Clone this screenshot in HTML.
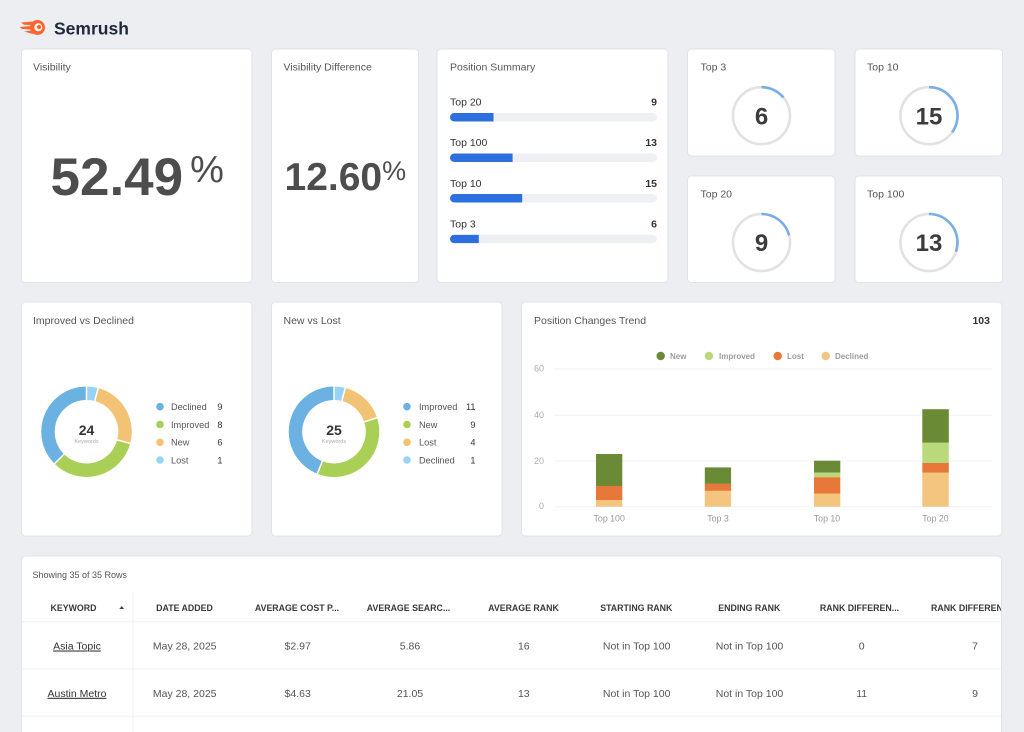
<!DOCTYPE html>
<html><head><meta charset="utf-8"><style>
html,body{margin:0;padding:0;background:#eceef1;width:1024px;height:732px;overflow:hidden}
svg{display:block}
text{font-family:"Liberation Sans",Arial,sans-serif}
</style></head><body>
<svg width="1024" height="732" viewBox="0 0 1024 732" xmlns="http://www.w3.org/2000/svg">
<rect x="0" y="0" width="1024" height="732" fill="#eceef1"/>
<!-- logo -->
<g fill="#ff642d">
<circle cx="37.5" cy="27.5" r="7.5"/>
<path d="M21 22.5 L33 21.5 L33 25 L24 24.8 Z"/>
<path d="M19.5 27 L31 26 L31 29.5 L22 29 Z"/>
<path d="M24 31.5 L32 30.5 L33 34 Z"/>
</g>
<circle cx="38.3" cy="27.3" r="4" fill="#fff"/>
<circle cx="39" cy="27" r="2.2" fill="#ff642d"/>
<text x="54" y="34.5" font-size="17.5" font-weight="bold" fill="#1e2a3b">Semrush</text>

<!-- cards -->
<g fill="#fff" stroke="#e1e3e7" stroke-width="1">
<rect x="21.5" y="49" width="230.5" height="233.5" rx="4"/>
<rect x="271.5" y="49" width="147" height="233.5" rx="4"/>
<rect x="437" y="49" width="231" height="233.5" rx="4"/>
<rect x="687.5" y="49" width="147.5" height="107" rx="4"/>
<rect x="855" y="49" width="147.5" height="107" rx="4"/>
<rect x="687.5" y="176" width="147.5" height="106.5" rx="4"/>
<rect x="855" y="176" width="147.5" height="106.5" rx="4"/>
<rect x="21.5" y="302" width="230.5" height="234" rx="4"/>
<rect x="271.5" y="302" width="230.5" height="234" rx="4"/>
<rect x="521.5" y="302" width="480.5" height="234" rx="4"/>
<rect x="21.5" y="556" width="980" height="200" rx="4"/>
</g>

<!-- titles -->
<g font-size="10.5" fill="#555">
<text x="33" y="70.5">Visibility</text>
<text x="283.5" y="70.5">Visibility Difference</text>
<text x="450" y="70.5">Position Summary</text>
<text x="700.5" y="70.5">Top 3</text>
<text x="867" y="70.5">Top 10</text>
<text x="700.5" y="197.5">Top 20</text>
<text x="867" y="197.5">Top 100</text>
<text x="33" y="324">Improved vs Declined</text>
<text x="283.5" y="324">New vs Lost</text>
<text x="534" y="324">Position Changes Trend</text>
</g>
<text x="990" y="324" font-size="10.5" font-weight="bold" fill="#333" text-anchor="end">103</text>

<!-- big numbers -->
<text x="50.5" y="195" font-size="53" font-weight="bold" fill="#4d4d4d">52.49<tspan font-size="38" font-weight="normal" dx="7" dy="-13">%</tspan></text>
<text x="284.5" y="190" font-size="39" font-weight="bold" fill="#4d4d4d">12.60<tspan font-size="27" font-weight="normal" dy="-10">%</tspan></text>

<!-- position summary -->
<defs>
<clipPath id="b1"><rect x="450" y="113" width="207" height="8.5" rx="4.25"/></clipPath>
<clipPath id="b2"><rect x="450" y="153.5" width="207" height="8.5" rx="4.25"/></clipPath>
<clipPath id="b3"><rect x="450" y="194" width="207" height="8.5" rx="4.25"/></clipPath>
<clipPath id="b4"><rect x="450" y="234.7" width="207" height="8.5" rx="4.25"/></clipPath>
<clipPath id="tbl"><rect x="22" y="556.5" width="979" height="200"/></clipPath>
</defs>
<g font-size="10.5" fill="#333">
<text x="450" y="105.5">Top 20</text>
<text x="450" y="146">Top 100</text>
<text x="450" y="187">Top 10</text>
<text x="450" y="227.5">Top 3</text>
</g>
<g font-size="10.5" fill="#333" font-weight="bold" text-anchor="end">
<text x="657" y="105.5">9</text>
<text x="657" y="146">13</text>
<text x="657" y="187">15</text>
<text x="657" y="227.5">6</text>
</g>
<g fill="#eef0f3">
<rect x="450" y="113" width="207" height="8.5" rx="4.25"/>
<rect x="450" y="153.5" width="207" height="8.5" rx="4.25"/>
<rect x="450" y="194" width="207" height="8.5" rx="4.25"/>
<rect x="450" y="234.7" width="207" height="8.5" rx="4.25"/>
</g>
<g fill="#2e6fdf">
<rect x="450" y="113" width="43.5" height="8.5" clip-path="url(#b1)"/>
<rect x="450" y="153.5" width="62.6" height="8.5" clip-path="url(#b2)"/>
<rect x="450" y="194" width="72.2" height="8.5" clip-path="url(#b3)"/>
<rect x="450" y="234.7" width="28.8" height="8.5" clip-path="url(#b4)"/>
</g>

<!-- progress circles (C=179.07) -->
<g fill="none" stroke-width="2.6">
<circle cx="761.5" cy="115.7" r="28.5" stroke="#e2e2e2"/>
<circle cx="761.5" cy="115.7" r="28.5" stroke="#7aaee6" stroke-dasharray="24.99 200" transform="rotate(-90 761.5 115.7)"/>
<circle cx="929" cy="115.7" r="28.5" stroke="#e2e2e2"/>
<circle cx="929" cy="115.7" r="28.5" stroke="#7aaee6" stroke-dasharray="62.47 200" transform="rotate(-90 929 115.7)"/>
<circle cx="761.5" cy="242.5" r="28.5" stroke="#e2e2e2"/>
<circle cx="761.5" cy="242.5" r="28.5" stroke="#7aaee6" stroke-dasharray="37.48 200" transform="rotate(-90 761.5 242.5)"/>
<circle cx="929" cy="242.5" r="28.5" stroke="#e2e2e2"/>
<circle cx="929" cy="242.5" r="28.5" stroke="#7aaee6" stroke-dasharray="54.14 200" transform="rotate(-90 929 242.5)"/>
</g>
<g font-size="24" font-weight="bold" fill="#3c3c3c" text-anchor="middle">
<text x="761.5" y="124.3">6</text>
<text x="929" y="124.3">15</text>
<text x="761.5" y="251.1">9</text>
<text x="929" y="251.1">13</text>
</g>

<!-- donut 1 (C=241.9) -->
<g fill="none" stroke-width="13.5">
<circle cx="86.5" cy="431.7" r="38.5" stroke="#98d2f7" stroke-dasharray="10.08 300" transform="rotate(-90 86.5 431.7)"/>
<circle cx="86.5" cy="431.7" r="38.5" stroke="#f2c375" stroke-dasharray="60.48 300" transform="rotate(-75 86.5 431.7)"/>
<circle cx="86.5" cy="431.7" r="38.5" stroke="#a9cf56" stroke-dasharray="80.63 300" transform="rotate(15 86.5 431.7)"/>
<circle cx="86.5" cy="431.7" r="38.5" stroke="#6bb1e1" stroke-dasharray="90.71 300" transform="rotate(135 86.5 431.7)"/>
</g>
<g stroke="#fff" stroke-width="1.5">
<line x1="86.5" y1="400.5" x2="86.5" y2="385.5"/>
<line x1="94.65" y1="401.27" x2="98.5" y2="387"/>
<line x1="116.93" y1="439.85" x2="131" y2="443.6"/>
<line x1="64.23" y1="453.97" x2="54" y2="464.2"/>
</g>
<text x="86.5" y="435" font-size="14" font-weight="bold" fill="#333" text-anchor="middle">24</text>
<text x="86.5" y="443" font-size="5.5" fill="#aaa" text-anchor="middle">Keywords</text>
<circle cx="160" cy="406.7" r="3.8" fill="#6bb1e1"/>
<circle cx="160" cy="424.5" r="3.8" fill="#a9cf56"/>
<circle cx="160" cy="442.3" r="3.8" fill="#f2c375"/>
<circle cx="160" cy="460" r="3.8" fill="#98d2f7"/>
<g font-size="9.2" fill="#555">
<text x="171" y="410">Declined</text>
<text x="171" y="427.8">Improved</text>
<text x="171" y="445.6">New</text>
<text x="171" y="463.3">Lost</text>
</g>
<g font-size="9.2" fill="#333" text-anchor="end">
<text x="222.5" y="410">9</text>
<text x="222.5" y="427.8">8</text>
<text x="222.5" y="445.6">6</text>
<text x="222.5" y="463.3">1</text>
</g>

<!-- donut 2 -->
<g fill="none" stroke-width="13.5">
<circle cx="334" cy="431.7" r="38.5" stroke="#98d2f7" stroke-dasharray="9.68 300" transform="rotate(-90 334 431.7)"/>
<circle cx="334" cy="431.7" r="38.5" stroke="#f2c375" stroke-dasharray="38.70 300" transform="rotate(-75.6 334 431.7)"/>
<circle cx="334" cy="431.7" r="38.5" stroke="#a9cf56" stroke-dasharray="87.08 300" transform="rotate(-18 334 431.7)"/>
<circle cx="334" cy="431.7" r="38.5" stroke="#6bb1e1" stroke-dasharray="106.44 300" transform="rotate(111.6 334 431.7)"/>
</g>
<g stroke="#fff" stroke-width="1.5">
<line x1="334" y1="400.5" x2="334" y2="385.5"/>
<line x1="341.83" y1="401.19" x2="345.5" y2="386.9"/>
<line x1="363.96" y1="421.97" x2="377.8" y2="417.5"/>
<line x1="322.4" y1="460.99" x2="317" y2="474.7"/>
</g>
<text x="334" y="435" font-size="14" font-weight="bold" fill="#333" text-anchor="middle">25</text>
<text x="334" y="443" font-size="5.5" fill="#aaa" text-anchor="middle">Keywords</text>
<circle cx="407" cy="406.7" r="3.8" fill="#6bb1e1"/>
<circle cx="407" cy="424.5" r="3.8" fill="#a9cf56"/>
<circle cx="407" cy="442.3" r="3.8" fill="#f2c375"/>
<circle cx="407" cy="460" r="3.8" fill="#98d2f7"/>
<g font-size="9.2" fill="#555">
<text x="419" y="410">Improved</text>
<text x="419" y="427.8">New</text>
<text x="419" y="445.6">Lost</text>
<text x="419" y="463.3">Declined</text>
</g>
<g font-size="9.2" fill="#333" text-anchor="end">
<text x="475.5" y="410">11</text>
<text x="475.5" y="427.8">9</text>
<text x="475.5" y="445.6">4</text>
<text x="475.5" y="463.3">1</text>
</g>

<!-- trend chart -->
<circle cx="660.7" cy="356" r="4.2" fill="#6a8a35"/>
<circle cx="709" cy="356" r="4.2" fill="#b9d97a"/>
<circle cx="777.7" cy="356" r="4.2" fill="#e8783a"/>
<circle cx="825.7" cy="356" r="4.2" fill="#f3c57f"/>
<g font-size="8" font-weight="bold" fill="#9c9c9c">
<text x="670" y="359">New</text>
<text x="719" y="359">Improved</text>
<text x="787" y="359">Lost</text>
<text x="835" y="359">Declined</text>
</g>
<g stroke="#f2f3f4" stroke-width="1">
<line x1="554" y1="369" x2="991.5" y2="369"/>
<line x1="554" y1="415.3" x2="991.5" y2="415.3"/>
<line x1="554" y1="461" x2="991.5" y2="461"/>
<line x1="554" y1="506.7" x2="991.5" y2="506.7"/>
</g>
<g font-size="9" fill="#aaa" text-anchor="end">
<text x="544" y="371.5">60</text>
<text x="544" y="418">40</text>
<text x="544" y="463.8">20</text>
<text x="544" y="509.2">0</text>
</g>
<!-- Top 100 -->
<rect x="596" y="454" width="26.3" height="32" fill="#6a8a35"/>
<rect x="596" y="486" width="26.3" height="14" fill="#e8783a"/>
<rect x="596" y="500" width="26.3" height="6.7" fill="#f3c57f"/>
<!-- Top 3 -->
<rect x="704.8" y="467.4" width="26.3" height="16.5" fill="#6a8a35"/>
<rect x="704.8" y="483.9" width="26.3" height="7" fill="#e8783a"/>
<rect x="704.8" y="490.9" width="26.3" height="15.8" fill="#f3c57f"/>
<!-- Top 10 -->
<rect x="814" y="460.7" width="26.3" height="12" fill="#6a8a35"/>
<rect x="814" y="472.7" width="26.3" height="4.5" fill="#b9d97a"/>
<rect x="814" y="477.2" width="26.3" height="16.3" fill="#e8783a"/>
<rect x="814" y="493.5" width="26.3" height="13.2" fill="#f3c57f"/>
<!-- Top 20 -->
<rect x="922.3" y="409.2" width="26.5" height="33.6" fill="#6a8a35"/>
<rect x="922.3" y="442.8" width="26.5" height="20.2" fill="#b9d97a"/>
<rect x="922.3" y="463" width="26.5" height="9.8" fill="#e8783a"/>
<rect x="922.3" y="472.8" width="26.5" height="33.9" fill="#f3c57f"/>
<g font-size="8.8" fill="#999" text-anchor="middle">
<text x="609.2" y="521.5">Top 100</text>
<text x="718" y="521.5">Top 3</text>
<text x="827" y="521.5">Top 10</text>
<text x="935.5" y="521.5">Top 20</text>
</g>

<!-- table -->
<text x="32.5" y="578.2" font-size="9" fill="#555">Showing 35 of 35 Rows</text>
<g clip-path="url(#tbl)">
<g stroke="#eff0f2" stroke-width="1">
<line x1="22" y1="621.7" x2="1001" y2="621.7"/>
<line x1="22" y1="669" x2="1001" y2="669"/>
<line x1="22" y1="716.3" x2="1001" y2="716.3"/>
<line x1="133" y1="593" x2="133" y2="740"/>
</g>
<g font-size="8.8" font-weight="bold" fill="#3a3a3a" text-anchor="middle">
<text x="73.5" y="610.8">KEYWORD</text>
<text x="184.5" y="610.8">DATE ADDED</text>
<text x="297" y="610.8">AVERAGE COST P...</text>
<text x="408.5" y="610.8">AVERAGE SEARC...</text>
<text x="523.5" y="610.8">AVERAGE RANK</text>
<text x="636.3" y="610.8">STARTING RANK</text>
<text x="749.3" y="610.8">ENDING RANK</text>
<text x="859.5" y="610.8">RANK DIFFEREN...</text>
<text x="931" y="610.8" text-anchor="start">RANK DIFFERENCE</text>
</g>
<path d="M119.3 609 L121.7 606 L124.1 609 Z" fill="#444"/>
<g font-size="10.5" fill="#555" text-anchor="middle">
<text x="77" y="649.5" fill="#333" text-decoration="underline">Asia Topic</text>
<text x="184.7" y="649.5">May 28, 2025</text>
<text x="297.7" y="649.5">$2.97</text>
<text x="410" y="649.5">5.86</text>
<text x="523.8" y="649.5">16</text>
<text x="636.7" y="649.5">Not in Top 100</text>
<text x="749.5" y="649.5">Not in Top 100</text>
<text x="861.7" y="649.5">0</text>
<text x="975" y="649.5">7</text>
<text x="77" y="696.8" fill="#333" text-decoration="underline">Austin Metro</text>
<text x="184.7" y="696.8">May 28, 2025</text>
<text x="297.7" y="696.8">$4.63</text>
<text x="410" y="696.8">21.05</text>
<text x="523.8" y="696.8">13</text>
<text x="636.7" y="696.8">Not in Top 100</text>
<text x="749.5" y="696.8">Not in Top 100</text>
<text x="861.7" y="696.8">11</text>
<text x="975" y="696.8">9</text>
</g>
<line x1="56" y1="651" x2="98" y2="651" stroke="#333" stroke-width="0.7"/>
<line x1="49.5" y1="698.3" x2="104.5" y2="698.3" stroke="#333" stroke-width="0.7"/>
</g>
</svg>
</body></html>
